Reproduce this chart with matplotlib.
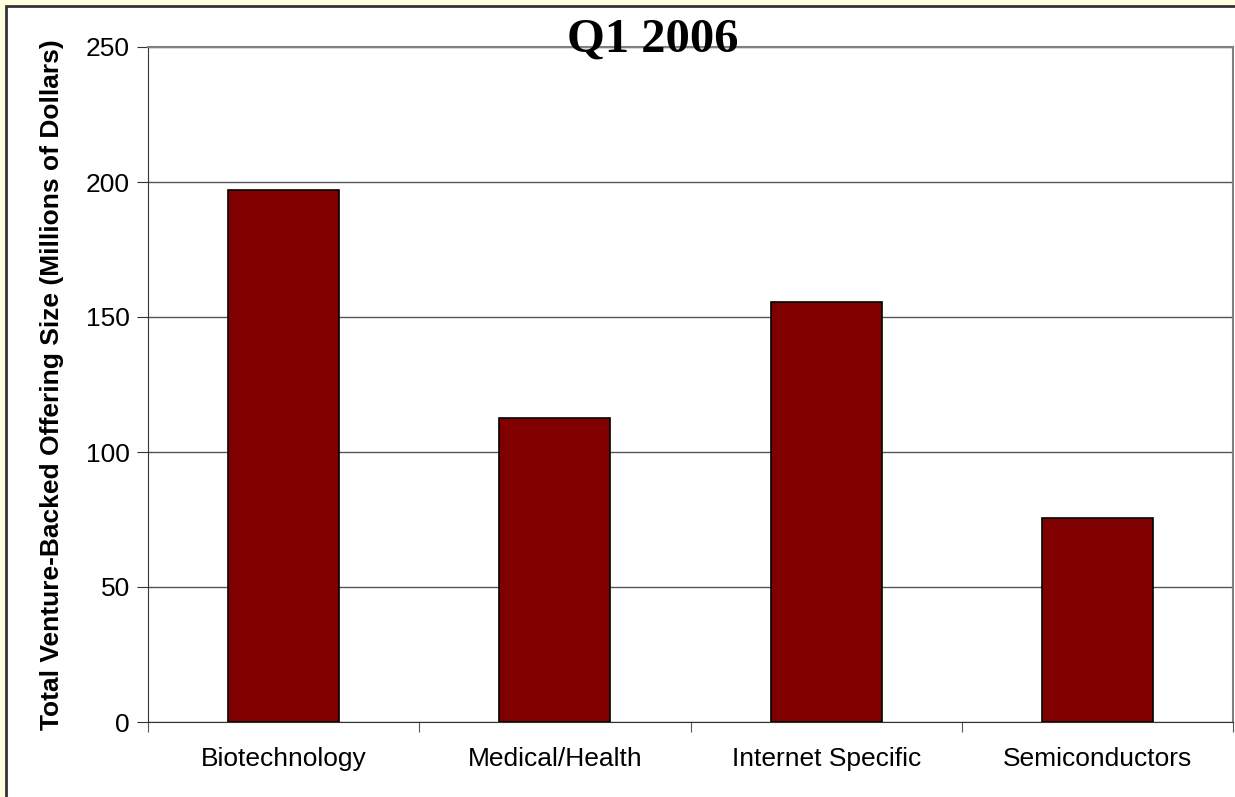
import matplotlib.pyplot as plt
from matplotlib.patches import Rectangle

categories = ["Biotechnology", "Medical/Health", "Internet Specific", "Semiconductors"]
offering_size = [197, 112.5, 155.5, 75.5]
y_ticks = [0, 50, 100, 150, 200, 250]

fig = plt.figure(figsize=(12.35, 7.97), dpi=100)
fig.patch.set_facecolor("#FFFFE0")

# white panel with a dark frame along the top and left
fig.add_artist(Rectangle((6 / 1235, -0.01), 1.02, 1 - 6 / 797 + 0.01,
                         transform=fig.transFigure, facecolor="white",
                         edgecolor="#333333", linewidth=2, zorder=0))

ax = fig.add_axes([148 / 1235, 1 - 722 / 797, 1085 / 1235, 675 / 797])
ax.set_facecolor("white")

x = range(len(categories))
ax.bar(x, offering_size, width=0.41, color="#800000", edgecolor="black",
       linewidth=1.2, zorder=3)

ax.set_xlim(-0.5, len(categories) - 0.5)
ax.set_ylim(0, 250)
ax.set_yticks(y_ticks)
ax.set_yticklabels([str(v) for v in y_ticks], fontsize=19, family="Liberation Sans")
ax.yaxis.grid(True, color="#555555", linewidth=1, zorder=1)

# category labels sit between the boundary ticks
ax.set_xticks([i + 0.5 for i in range(-1, len(categories))])
ax.set_xticklabels([""] * (len(categories) + 1))
ax.set_xticks(list(x), minor=True)
ax.set_xticklabels(categories, minor=True, fontsize=19, family="Liberation Sans")
ax.tick_params(axis="x", which="minor", length=0, pad=18)
ax.tick_params(axis="x", which="major", length=7, color="#555555", direction="out")
ax.tick_params(axis="y", length=8, color="#333333", direction="out", pad=5)

for side in ["top", "right"]:
    ax.spines[side].set_color("#808080")
    ax.spines[side].set_linewidth(1.5)
ax.spines["left"].set_color("#333333")
ax.spines["bottom"].set_color("#333333")

ax.set_ylabel("Total Venture-Backed Offering Size (Millions of Dollars)",
              fontsize=19, fontweight="bold", family="Liberation Sans", labelpad=16)

fig.text(653 / 1235, 1 - 52 / 797, "Q1 2006", ha="center", va="baseline",
         fontsize=35, fontweight="bold", family="Liberation Serif")

fig.savefig("out.png", dpi=100, facecolor=fig.get_facecolor())
